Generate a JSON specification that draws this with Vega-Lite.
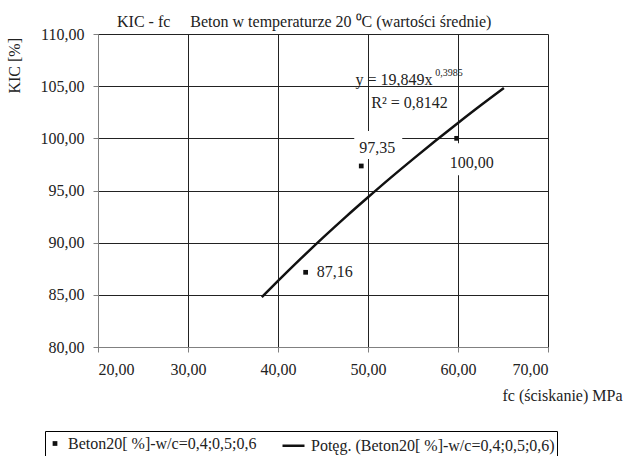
{
  "$schema": "https://vega.github.io/schema/vega-lite/v6.json",
  "width": 450,
  "height": 313,
  "autosize": {"type": "none"},
  "padding": {"left": 98, "top": 34, "right": 75, "bottom": 109},
  "background": "white",
  "config": {
    "locale": {"number": {"decimal": ",", "thousands": " ", "grouping": [3], "currency": ["", ""]}},
    "font": "Liberation Serif",
    "view": {"stroke": null},
    "axis": {
      "labelFont": "Liberation Serif", "labelFontSize": 16, "labelColor": "#222",
      "titleFont": "Liberation Serif", "titleFontSize": 16, "titleFontWeight": "normal", "titleColor": "#222",
      "gridColor": "#222", "gridOpacity": 1, "gridWidth": 1,
      "domainColor": "#808080", "tickColor": "#808080", "tickSize": 5
    }
  },
  "title": {
    "text": "KIC - fc\u00a0\u00a0\u00a0\u00a0\u00a0Beton w temperaturze 20 \u2070C (wartości średnie)",
    "anchor": "start", "frame": "group", "dx": 19, "offset": -4,
    "font": "Liberation Serif", "fontSize": 16, "fontWeight": "normal", "color": "#222"
  },
  "datasets": {
    "points": [
      {"fc": 43.07, "kic": 87.16, "series": "Beton20[ %]-w/c=0,4;0,5;0,6"},
      {"fc": 49.25, "kic": 97.35, "series": "Beton20[ %]-w/c=0,4;0,5;0,6"},
      {"fc": 59.85, "kic": 100.0, "series": "Beton20[ %]-w/c=0,4;0,5;0,6"}
    ],
    "trend": [
      {"fc": 38.2, "kic": 84.77}, {"fc": 40, "kic": 86.33}, {"fc": 42.5, "kic": 88.44},
      {"fc": 45, "kic": 90.48}, {"fc": 47.5, "kic": 92.45}, {"fc": 50, "kic": 94.35},
      {"fc": 52.5, "kic": 96.21}, {"fc": 55, "kic": 98.01}, {"fc": 57.5, "kic": 99.76},
      {"fc": 60, "kic": 101.47}, {"fc": 62.5, "kic": 103.14}, {"fc": 65.1, "kic": 104.82}
    ],
    "eq": [
      {"fc": 48.6, "kic": 105.6, "t": "y = 19,849x"},
      {"fc": 50.37, "kic": 103.38, "t": "R\u00b2 = 0,8142"}
    ],
    "sup": [
      {"fc": 57.48, "kic": 106.26, "t": "0,3985"}
    ],
    "ytitle": [
      {"fc": 10.78, "kic": 109.62, "t": "KIC [%]"}
    ]
  },
  "encoding": {
    "x": {
      "field": "fc", "type": "quantitative",
      "scale": {"domain": [20, 70], "nice": false, "zero": false},
      "axis": {
        "values": [20, 30, 40, 50, 60, 70], "format": ".2f", "labelPadding": 9,
        "title": "fc (ściskanie) MPa", "titleX": 524, "titleY": 48,
        "titleAlign": "right", "titleBaseline": "middle"
      }
    },
    "y": {
      "field": "kic", "type": "quantitative",
      "scale": {"domain": [80, 110], "nice": false, "zero": false},
      "axis": {
        "values": [80, 85, 90, 95, 100, 105, 110], "format": ".2f", "labelPadding": 9,
        "title": null
      }
    }
  },
  "layer": [
    {
      "data": {"name": "points"},
      "transform": [{"filter": "datum.kic > 97 && datum.kic < 99"}],
      "mark": {"type": "rect", "fill": "white", "width": 48, "height": 28, "xOffset": 17, "yOffset": -21}
    },
    {
      "data": {"name": "points"},
      "transform": [{"filter": "datum.kic >= 99.5"}],
      "mark": {"type": "rect", "fill": "white", "width": 54, "height": 32, "xOffset": 15, "yOffset": 21}
    },
    {
      "data": {"name": "trend"},
      "mark": {"type": "line", "color": "#111", "strokeWidth": 2.5, "interpolate": "monotone"}
    },
    {
      "data": {"name": "points"},
      "mark": {"type": "point", "filled": false, "color": "#111", "strokeWidth": 2.5, "opacity": 1},
      "encoding": {
        "shape": {
          "field": "series", "type": "nominal",
          "scale": {
            "domain": ["Beton20[ %]-w/c=0,4;0,5;0,6", "Potęg. (Beton20[ %]-w/c=0,4;0,5;0,6)"],
            "range": ["square", "stroke"]
          },
          "legend": {
            "orient": "none", "legendX": -53, "legendY": 397, "direction": "horizontal",
            "title": null, "labelFont": "Liberation Serif", "labelFontSize": 16, "labelColor": "#222",
            "strokeColor": "black", "padding": 2, "symbolStrokeWidth": 2.5,
            "symbolStrokeColor": "#111", "columnPadding": 20,
            "labelOffset": 5, "labelLimit": 400
          }
        },
        "size": {
          "field": "series", "type": "nominal",
          "scale": {
            "domain": ["Beton20[ %]-w/c=0,4;0,5;0,6", "Potęg. (Beton20[ %]-w/c=0,4;0,5;0,6)"],
            "range": [5, 484]
          },
          "legend": {
            "orient": "none", "legendX": -53, "legendY": 397, "direction": "horizontal",
            "title": null, "labelFont": "Liberation Serif", "labelFontSize": 16, "labelColor": "#222",
            "strokeColor": "black", "padding": 2, "symbolStrokeWidth": 2.5,
            "symbolStrokeColor": "#111", "columnPadding": 20,
            "labelOffset": 5, "labelLimit": 400
          }
        }
      }
    },
    {
      "data": {"name": "points"},
      "transform": [{"filter": "datum.kic < 90"}],
      "mark": {"type": "text", "align": "left", "baseline": "middle", "dx": 11, "fontSize": 16, "font": "Liberation Serif", "color": "#222"},
      "encoding": {"text": {"field": "kic", "type": "quantitative", "format": ".2f"}}
    },
    {
      "data": {"name": "points"},
      "transform": [{"filter": "datum.kic > 97 && datum.kic < 99"}],
      "mark": {"type": "text", "align": "left", "baseline": "middle", "dx": -2, "dy": -18, "fontSize": 16, "font": "Liberation Serif", "color": "#222"},
      "encoding": {"text": {"field": "kic", "type": "quantitative", "format": ".2f"}}
    },
    {
      "data": {"name": "points"},
      "transform": [{"filter": "datum.kic >= 99.5"}],
      "mark": {"type": "text", "align": "left", "baseline": "middle", "dx": -7, "dy": 25, "fontSize": 16, "font": "Liberation Serif", "color": "#222"},
      "encoding": {"text": {"field": "kic", "type": "quantitative", "format": ".2f"}}
    },
    {
      "data": {"name": "eq"},
      "mark": {"type": "text", "align": "left", "baseline": "middle", "fontSize": 16, "font": "Liberation Serif", "color": "#222"},
      "encoding": {"text": {"field": "t", "type": "nominal"}}
    },
    {
      "data": {"name": "sup"},
      "mark": {"type": "text", "align": "left", "baseline": "middle", "fontSize": 10, "font": "Liberation Serif", "color": "#222"},
      "encoding": {"text": {"field": "t", "type": "nominal"}}
    },
    {
      "data": {"name": "ytitle"},
      "mark": {"type": "text", "align": "right", "baseline": "middle", "angle": 270, "fontSize": 16, "font": "Liberation Serif", "color": "#222"},
      "encoding": {"text": {"field": "t", "type": "nominal"}}
    }
  ]
}
